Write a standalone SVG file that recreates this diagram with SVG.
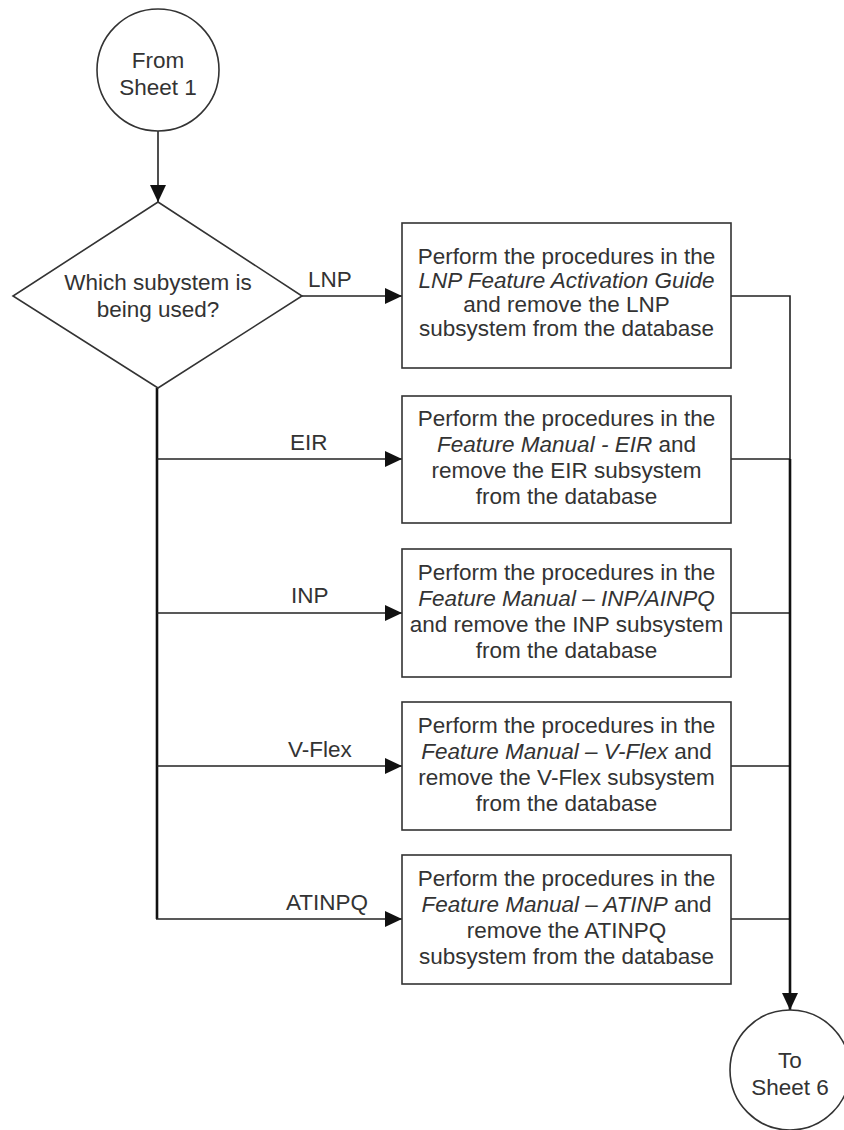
<svg xmlns="http://www.w3.org/2000/svg" width="844" height="1130" viewBox="0 0 844 1130">
<style>
text{font-family:"Liberation Sans",Arial,sans-serif;font-size:22.5px;fill:#333;}
.c{text-anchor:middle;}
.i{font-style:italic;}
.shape{fill:#fff;stroke:#333;stroke-width:1.6;}
.ln{fill:none;stroke:#222;stroke-width:1.6;}
.bold{fill:none;stroke:#111;stroke-width:2.6;}
</style>
<defs>
<marker id="arr" markerUnits="userSpaceOnUse" markerWidth="18" markerHeight="16" refX="17" refY="8" orient="auto">
<path d="M0,0 L17,8 L0,16 z" fill="#111"/>
</marker>
</defs>
<rect width="844" height="1130" fill="#fff"/>
<g id="connectors">
<path class="ln" d="M158,131 V202" marker-end="url(#arr)"/>
<path class="ln" d="M302,296 H402" marker-end="url(#arr)"/>
<path class="bold" d="M157,388 V919"/>
<path class="ln" d="M157,459 H402" marker-end="url(#arr)"/>
<path class="ln" d="M157,613 H402" marker-end="url(#arr)"/>
<path class="ln" d="M157,766 H402" marker-end="url(#arr)"/>
<path class="ln" d="M156,919 H402" marker-end="url(#arr)"/>
<path class="ln" d="M731,296 H790 V459"/>
<path class="ln" d="M731,459 H790"/>
<path class="ln" d="M731,613 H790"/>
<path class="ln" d="M731,766 H790"/>
<path class="ln" d="M731,919 H790"/>
<path class="bold" d="M790,459 V1010" marker-end="url(#arr)"/>
<text x="308" y="287">LNP</text>
<text x="290" y="450">EIR</text>
<text x="291" y="603">INP</text>
<text x="288" y="757">V-Flex</text>
<text x="286" y="910">ATINPQ</text>
</g>
<g id="start">
<circle class="shape" cx="158" cy="70" r="61"/>
<text class="c" x="158" y="68">From</text>
<text class="c" x="158" y="95">Sheet 1</text>
</g>
<g id="decision">
<polygon class="shape" points="158,202 302,296 158,388 13,296"/>
<text class="c" x="158" y="290">Which subystem is</text>
<text class="c" x="158" y="317">being used?</text>
</g>
<g id="lnp">
<rect class="shape" x="402" y="223" width="329" height="145"/>
<text class="c" x="566.5" y="264">Perform the procedures in the</text>
<text class="c i" x="566.5" y="288">LNP Feature Activation Guide</text>
<text class="c" x="566.5" y="312">and remove the LNP</text>
<text class="c" x="566.5" y="336">subsystem from the database</text>
</g>
<g id="eir">
<rect class="shape" x="402" y="396" width="329" height="127"/>
<text class="c" x="566.5" y="426">Perform the procedures in the</text>
<text class="c" x="566.5" y="452"><tspan class="i">Feature Manual - EIR</tspan> and</text>
<text class="c" x="566.5" y="478">remove the EIR subsystem</text>
<text class="c" x="566.5" y="504">from the database</text>
</g>
<g id="inp">
<rect class="shape" x="402" y="549" width="329" height="128"/>
<text class="c" x="566.5" y="580">Perform the procedures in the</text>
<text class="c i" x="566.5" y="606">Feature Manual – INP/AINPQ</text>
<text class="c" x="566.5" y="632">and remove the INP subsystem</text>
<text class="c" x="566.5" y="658">from the database</text>
</g>
<g id="vflex">
<rect class="shape" x="402" y="702" width="329" height="128"/>
<text class="c" x="566.5" y="733">Perform the procedures in the</text>
<text class="c" x="566.5" y="759"><tspan class="i">Feature Manual – V-Flex</tspan> and</text>
<text class="c" x="566.5" y="785">remove the V-Flex subsystem</text>
<text class="c" x="566.5" y="811">from the database</text>
</g>
<g id="atinpq">
<rect class="shape" x="402" y="855" width="329" height="129"/>
<text class="c" x="566.5" y="886">Perform the procedures in the</text>
<text class="c" x="566.5" y="912"><tspan class="i">Feature Manual – ATINP</tspan> and</text>
<text class="c" x="566.5" y="938">remove the ATINPQ</text>
<text class="c" x="566.5" y="964">subsystem from the database</text>
</g>
<g id="end">
<circle class="shape" cx="790" cy="1070" r="60"/>
<text class="c" x="790" y="1068">To</text>
<text class="c" x="790" y="1095">Sheet 6</text>
</g>
</svg>
